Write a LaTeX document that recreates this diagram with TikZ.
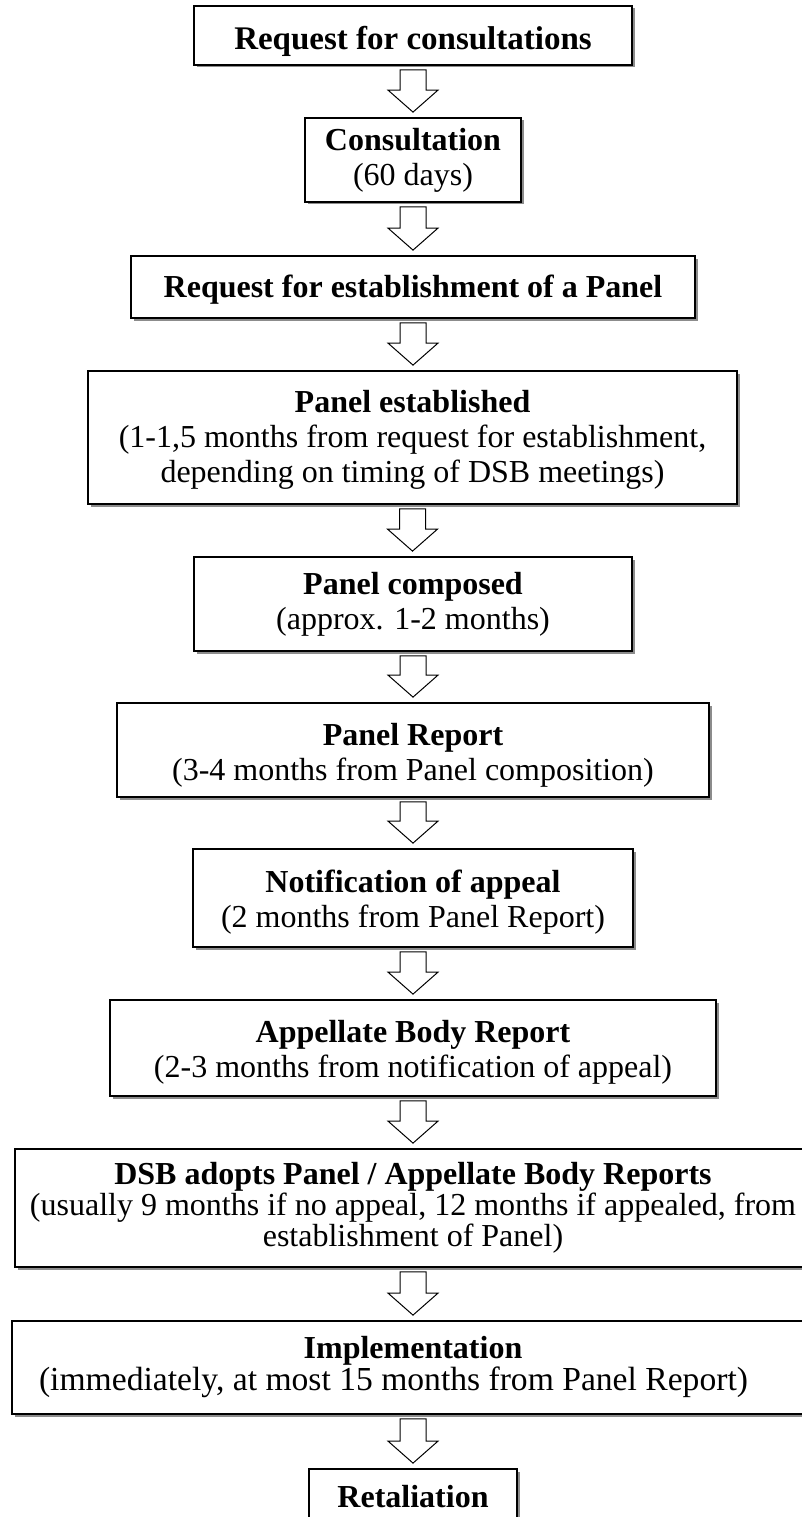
\documentclass[tikz,border=0pt]{standalone}
\usepackage{fontspec}
\setmainfont{Liberation Serif}
\usetikzlibrary{calc,shadows}
\tikzset{
  stage/.style={draw=black, line width=1.8pt, fill=white, align=center, inner sep=0pt,
    font=\fontsize{32}{35}\selectfont,
    drop shadow={shadow xshift=2.5pt, shadow yshift=-2.5pt, fill=black!45, opacity=1}},
  blockarrow/.style={draw=black, line width=1pt, fill=white, line join=miter},
}
\newcommand{\topgap}[1]{\rule{0pt}{#1}}
\newcommand{\flowarrow}[2]{%
  \draw[blockarrow] let \p1=($(#1.south)+(0,-4pt)$), \p2=($(#2.north)+(0,5pt)$) in
    (\x1-13pt,\y1) -- (\x1+13pt,\y1) -- (\x1+13pt,\y2+22pt) -- (\x1+25pt,\y2+22pt)
    -- (\x1,\y2) -- (\x1-25pt,\y2+22pt) -- (\x1-13pt,\y2+22pt) -- cycle;}
\begin{document}
\begin{tikzpicture}
\clip (0,0) rectangle (802pt,-1517pt);
\fill[white] (0,0) rectangle (802pt,-1517pt);
\node[stage, font=\fontsize{33}{35}\selectfont, minimum width=438pt, minimum height=59pt] (n1) at (413pt,-35.5pt)
  {\topgap{35pt}\textbf{Request for consultations}};
\node[stage, minimum width=216pt, minimum height=84pt] (n2) at (413pt,-160pt)
  {\textbf{Consultation}\\(60 days)};
\node[stage, minimum width=564pt, minimum height=62pt] (n3) at (413pt,-287pt)
  {\topgap{28pt}\textbf{Request for establishment of a Panel}};
\node[stage, minimum width=649pt, minimum height=133pt] (n4) at (412.5pt,-437.5pt)
  {\topgap{26pt}\textbf{Panel established}\\(1-1,5 months from request for establishment,\\depending on timing of DSB meetings)};
\node[stage, minimum width=438pt, minimum height=94pt] (n5) at (413pt,-604pt)
  {\textbf{Panel composed}\\(approx. 1-2 months)};
\node[stage, minimum width=592pt, minimum height=94pt] (n6) at (413pt,-750pt)
  {\topgap{32pt}\textbf{Panel Report}\\(3-4 months from Panel composition)};
\node[stage, minimum width=440pt, minimum height=98pt] (n7) at (413pt,-898pt)
  {\topgap{31pt}\textbf{Notification of appeal}\\(2 months from Panel Report)};
\node[stage, minimum width=606pt, minimum height=96pt] (n8) at (413pt,-1048pt)
  {\topgap{30pt}\textbf{Appellate Body Report}\\(2-3 months from notification of appeal)};
\node[stage, minimum width=796pt, minimum height=118pt] (n9) at (413pt,-1208pt)
  {\textbf{DSB adopts Panel / Appellate Body Reports}\\[-4pt](usually 9 months if no appeal, 12 months if appealed, from\\[-4pt]establishment of Panel)};
\node[stage, minimum width=802pt, minimum height=93pt] (n10) at (413pt,-1367.5pt)
  {\textbf{Implementation}\\[-3pt]{\fontsize{33.6}{32}\selectfont(immediately, at most 15 months from Panel Report)\hspace*{39pt}}};
\node[stage, minimum width=208pt, minimum height=56pt] (n11) at (413pt,-1497pt)
  {\textbf{Retaliation}};
\flowarrow{n1}{n2}
\flowarrow{n2}{n3}
\flowarrow{n3}{n4}
\flowarrow{n4}{n5}
\flowarrow{n5}{n6}
\flowarrow{n6}{n7}
\flowarrow{n7}{n8}
\flowarrow{n8}{n9}
\flowarrow{n9}{n10}
\flowarrow{n10}{n11}
\end{tikzpicture}
\end{document}
